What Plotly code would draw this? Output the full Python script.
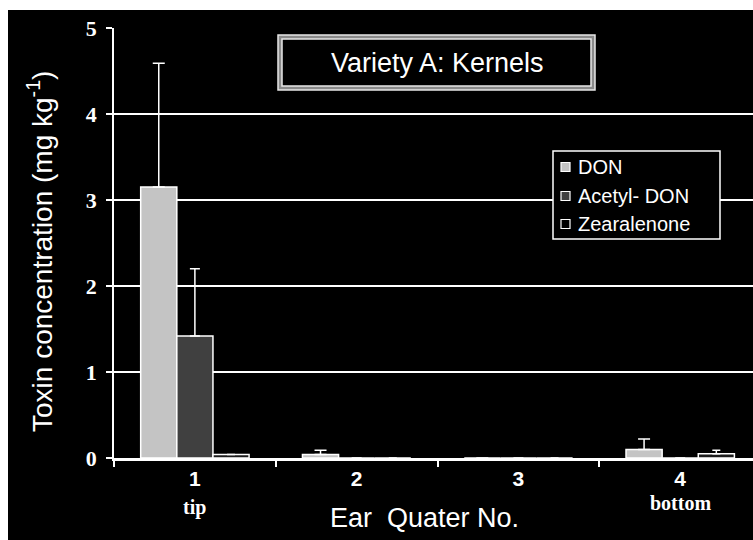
import plotly.graph_objects as go

# Ear quarters (1 = tip, 4 = bottom)
quarters = ["1", "2", "3", "4"]
quarter_notes = {"1": "tip", "4": "bottom"}

# Mean toxin concentration (mg/kg) and upper error (SD)
toxins = ["DON", "Acetyl- DON", "Zearalenone"]
don = [3.15, 0.04, 0.0, 0.10]
don_err = [1.44, 0.05, None, 0.12]
acetyl_don = [1.42, 0.0, 0.0, 0.0]
acetyl_don_err = [0.78, None, None, None]
zearalenone = [0.04, 0.0, 0.0, 0.05]
zearalenone_err = [None, None, None, 0.04]

y_ticks = [0, 1, 2, 3, 4, 5]

W, H = 753, 540
L, R, T, B = 114, 0, 28, 82
PW, PH = W - L - R, H - T - B


def px(x):
    return (x - L) / PW


def py(y):
    return (H - B - y) / PH


fig = go.Figure()

fills = ["#c4c4c4", "#404040", "#1c1c1c"]
caps = [6, 5, 4]
values = [don, acetyl_don, zearalenone]
errors = [don_err, acetyl_don_err, zearalenone_err]
for name, vals, err, col, cap in zip(toxins, values, errors, fills, caps):
    fig.add_trace(go.Bar(
        name=name, x=quarters, y=vals, showlegend=False,
        marker=dict(color=col, line=dict(color="white", width=1.5)),
        error_y=dict(type="data", array=err, arrayminus=[0] * len(err),
                     symmetric=False, color="white", thickness=1.5, width=cap),
    ))

fig.update_layout(
    width=W, height=H,
    margin=dict(l=L, r=R, t=T, b=B, pad=0),
    paper_bgcolor="black", plot_bgcolor="black",
    barmode="group", bargap=0.33, bargroupgap=0,
    xaxis=dict(
        type="category", range=[-0.5, 3.45], tickson="boundaries",
        tickvals=quarters, ticktext=[f"<b>{q}</b>" for q in quarters],
        ticks="outside", ticklen=6, tickcolor="white", tickwidth=1.5,
        showline=True, linecolor="white", linewidth=3,
        showgrid=False, zeroline=False,
        tickfont=dict(family="Liberation Sans, Arial", size=21, color="white"),
    ),
    yaxis=dict(
        range=[0, 5], tickvals=y_ticks, ticktext=[f"<b>{v}</b>" for v in y_ticks],
        ticks="outside", ticklen=6, tickcolor="white", tickwidth=1.5,
        showline=True, linecolor="white", linewidth=1.5,
        showgrid=True, gridcolor="white", gridwidth=1.5,
        zeroline=False,
        tickfont=dict(family="Liberation Serif, Times New Roman", size=22, color="white"),
        ticklabelstandoff=5,
    ),
    font=dict(color="white"),
)

shapes = [
    # white page border on the top and left edges
    dict(type="rect", xref="paper", yref="paper", layer="above",
         x0=px(-2), x1=px(W + 2), y0=py(10), y1=py(-2),
         fillcolor="white", line=dict(width=0)),
    dict(type="rect", xref="paper", yref="paper", layer="above",
         x0=px(-2), x1=px(8), y0=py(H + 2), y1=py(-2),
         fillcolor="white", line=dict(width=0)),
    # double-framed title box
    dict(type="rect", xref="paper", yref="paper", layer="above",
         x0=px(278), x1=px(595), y0=py(90), y1=py(35),
         fillcolor="#8a8a8a", line=dict(color="#e8e8e8", width=1.5)),
    dict(type="rect", xref="paper", yref="paper", layer="above",
         x0=px(282), x1=px(591), y0=py(86), y1=py(39),
         fillcolor="black", line=dict(color="#e8e8e8", width=1.5)),
    # legend frame
    dict(type="rect", xref="paper", yref="paper", layer="above",
         x0=px(553), x1=px(720), y0=py(239), y1=py(151),
         fillcolor="black", line=dict(color="white", width=1.5)),
]

annotations = [
    dict(text="Variety A: Kernels", xref="paper", yref="paper",
         x=px(437), y=py(63), xanchor="center", yanchor="middle", showarrow=False,
         font=dict(family="Liberation Sans, Arial", size=27, color="white")),
    dict(text="Toxin concentration (mg kg<sup>-1</sup>)", xref="paper", yref="paper",
         x=px(40), y=py(252), xanchor="center", yanchor="middle", showarrow=False,
         textangle=-90,
         font=dict(family="Liberation Sans, Arial", size=28, color="white")),
    dict(text="Ear  Quater No.", xref="paper", yref="paper",
         x=px(424), y=py(518), xanchor="center", yanchor="middle", showarrow=False,
         font=dict(family="Liberation Sans, Arial", size=27, color="white")),
]

# legend entries: swatch + label
legend_rows = [167, 196, 224]
swatch_fills = ["#c4c4c4", "#404040", "black"]
for name, row, col in zip(toxins, legend_rows, swatch_fills):
    shapes.append(dict(type="rect", xref="paper", yref="paper", layer="above",
                       x0=px(561), x1=px(570), y0=py(row + 4.5), y1=py(row - 4.5),
                       fillcolor=col, line=dict(color="white", width=1.2)))
    annotations.append(dict(text=name, xref="paper", yref="paper",
                            x=px(576), y=py(row), xanchor="left", yanchor="middle",
                            showarrow=False,
                            font=dict(family="Liberation Sans, Arial", size=20, color="white")))

note_rows = {"1": 507, "4": 503}
for q, note in quarter_notes.items():
    annotations.append(dict(
        text=f"<b>{note}</b>", xref="x", yref="paper", x=quarters.index(q), y=py(note_rows[q]),
        xanchor="center", yanchor="middle", showarrow=False,
        font=dict(family="Liberation Serif, Times New Roman", size=20, color="white")))

fig.update_layout(shapes=shapes, annotations=annotations)

fig.write_html("out.html")
